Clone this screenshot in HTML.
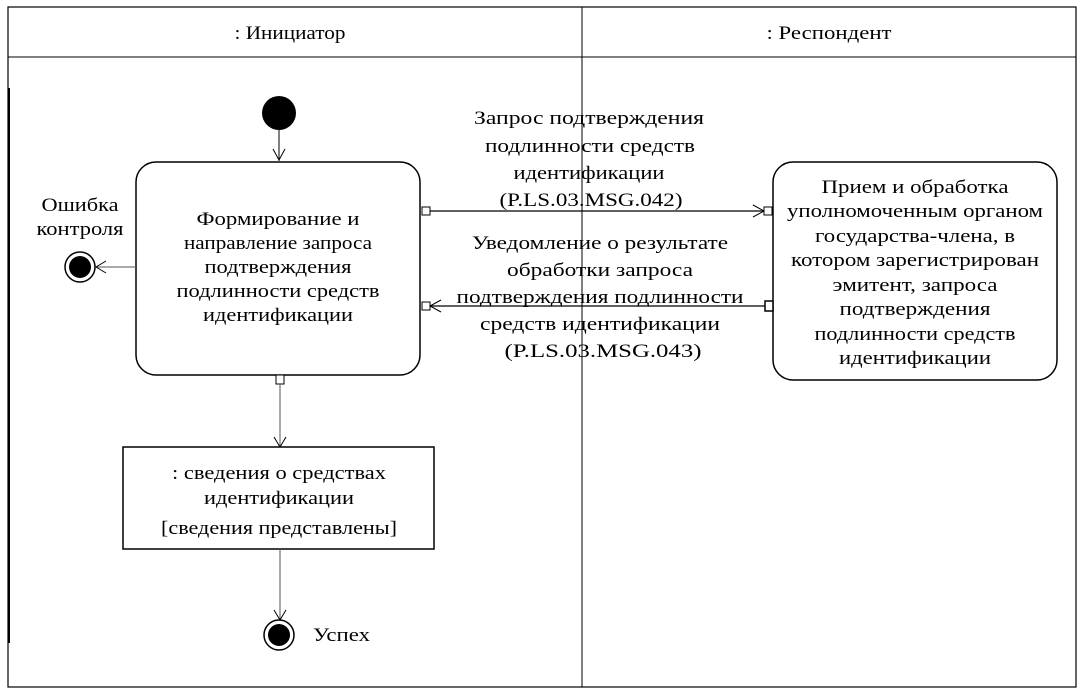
<!DOCTYPE html>
<html><head><meta charset="utf-8"><style>
html,body{margin:0;padding:0;background:#fff;}
svg{display:block;}
text{font-family:"Liberation Serif","DejaVu Serif",serif;font-size:19px;fill:#000;}
</style></head><body>
<svg width="1084" height="695" viewBox="0 0 1084 695" xmlns="http://www.w3.org/2000/svg">
<rect x="8" y="7" width="1068" height="680" fill="none" stroke="#000" stroke-width="1.2"/>
<line x1="8" y1="57" x2="1076" y2="57" stroke="#000" stroke-width="1"/>
<line x1="582" y1="7" x2="582" y2="687" stroke="#000" stroke-width="1"/>
<line x1="9" y1="88" x2="9" y2="643" stroke="#000" stroke-width="2"/>
<g text-anchor="middle" lengthAdjust="spacingAndGlyphs">
<text x="290" y="39" textLength="111" lengthAdjust="spacingAndGlyphs">: Инициатор</text>
<text x="829" y="39" textLength="125" lengthAdjust="spacingAndGlyphs">: Респондент</text>
</g>

<circle cx="279" cy="113" r="17" fill="#000"/>
<line x1="279" y1="130" x2="279" y2="161" stroke="#000"/>
<polyline points="273,149 279,160 285,149" fill="none" stroke="#000"/>

<rect x="136" y="162" width="284" height="213" rx="20" fill="#fff" stroke="#000" stroke-width="1.5"/>
<g text-anchor="middle">
<text x="278" y="225" textLength="163" lengthAdjust="spacingAndGlyphs">Формирование и</text>
<text x="278" y="249" textLength="188" lengthAdjust="spacingAndGlyphs">направление запроса</text>
<text x="278" y="273" textLength="147" lengthAdjust="spacingAndGlyphs">подтверждения</text>
<text x="278" y="297" textLength="203" lengthAdjust="spacingAndGlyphs">подлинности средств</text>
<text x="278" y="321" textLength="150" lengthAdjust="spacingAndGlyphs">идентификации</text>
</g>

<line x1="96" y1="267" x2="136" y2="267" stroke="#555"/>
<polyline points="106,261 96,267 106,273" fill="none" stroke="#000"/>
<circle cx="80" cy="267" r="15" fill="#fff" stroke="#000" stroke-width="1.5"/>
<circle cx="80" cy="267" r="11" fill="#000"/>
<text x="80" y="211" text-anchor="middle" textLength="77" lengthAdjust="spacingAndGlyphs">Ошибка</text>
<text x="80" y="235" text-anchor="middle" textLength="87" lengthAdjust="spacingAndGlyphs">контроля</text>

<rect x="773" y="162" width="284" height="218" rx="20" fill="#fff" stroke="#000" stroke-width="1.5"/>
<g text-anchor="middle">
<text x="915" y="193" textLength="187" lengthAdjust="spacingAndGlyphs">Прием и обработка</text>
<text x="915" y="217" textLength="256" lengthAdjust="spacingAndGlyphs">уполномоченным органом</text>
<text x="915" y="242" textLength="200" lengthAdjust="spacingAndGlyphs">государства-члена, в</text>
<text x="915" y="266" textLength="248" lengthAdjust="spacingAndGlyphs">котором зарегистрирован</text>
<text x="915" y="291" textLength="165" lengthAdjust="spacingAndGlyphs">эмитент, запроса</text>
<text x="915" y="315" textLength="151" lengthAdjust="spacingAndGlyphs">подтверждения</text>
<text x="915" y="340" textLength="201" lengthAdjust="spacingAndGlyphs">подлинности средств</text>
<text x="915" y="364" textLength="152" lengthAdjust="spacingAndGlyphs">идентификации</text>
</g>

<line x1="430" y1="211" x2="764" y2="211" stroke="#000" stroke-width="1.2"/>
<polyline points="753,205 764,211 753,217" fill="none" stroke="#000"/>
<rect x="422" y="207" width="8" height="8" fill="#fff" stroke="#000"/>
<rect x="764" y="207" width="8" height="8" fill="#fff" stroke="#000"/>
<line x1="430" y1="306" x2="765" y2="306" stroke="#000" stroke-width="1.2"/>
<polyline points="441,300 430,306 441,312" fill="none" stroke="#000"/>
<rect x="422" y="302" width="8" height="8" fill="#fff" stroke="#000"/>
<rect x="765" y="301" width="8" height="10" fill="#fff" stroke="#000" stroke-width="1.5"/>

<g text-anchor="middle">
<text x="589" y="124" textLength="230" lengthAdjust="spacingAndGlyphs">Запрос подтверждения</text>
<text x="590" y="152" textLength="210" lengthAdjust="spacingAndGlyphs">подлинности средств</text>
<text x="589" y="179" textLength="151" lengthAdjust="spacingAndGlyphs">идентификации</text>
<text x="591" y="206" textLength="183" lengthAdjust="spacingAndGlyphs">(P.LS.03.MSG.042)</text>
<text x="600" y="249" textLength="256" lengthAdjust="spacingAndGlyphs">Уведомление о результате</text>
<text x="600" y="276" textLength="186" lengthAdjust="spacingAndGlyphs">обработки запроса</text>
<text x="600" y="303" textLength="287" lengthAdjust="spacingAndGlyphs">подтверждения подлинности</text>
<text x="600" y="330" textLength="240" lengthAdjust="spacingAndGlyphs">средств идентификации</text>
<text x="603" y="357" textLength="197" lengthAdjust="spacingAndGlyphs">(P.LS.03.MSG.043)</text>
</g>

<rect x="276" y="375" width="8" height="9" fill="#fff" stroke="#000"/>
<line x1="280" y1="384" x2="280" y2="447" stroke="#555"/>
<polyline points="274,437 280,447 286,437" fill="none" stroke="#000"/>
<rect x="123" y="447" width="311" height="102" fill="#fff" stroke="#000" stroke-width="1.5"/>
<g text-anchor="middle">
<text x="279" y="479" textLength="214" lengthAdjust="spacingAndGlyphs">: сведения о средствах</text>
<text x="279" y="504" textLength="150" lengthAdjust="spacingAndGlyphs">идентификации</text>
<text x="279" y="534" textLength="236" lengthAdjust="spacingAndGlyphs">[сведения представлены]</text>
</g>
<line x1="280" y1="549" x2="280" y2="620" stroke="#555"/>
<polyline points="274,610 280,620 286,610" fill="none" stroke="#000"/>
<circle cx="279" cy="635" r="15" fill="#fff" stroke="#000" stroke-width="1.5"/>
<circle cx="279" cy="635" r="11" fill="#000"/>
<text x="313" y="641" textLength="57" lengthAdjust="spacingAndGlyphs">Успех</text>
</svg>
</body></html>
